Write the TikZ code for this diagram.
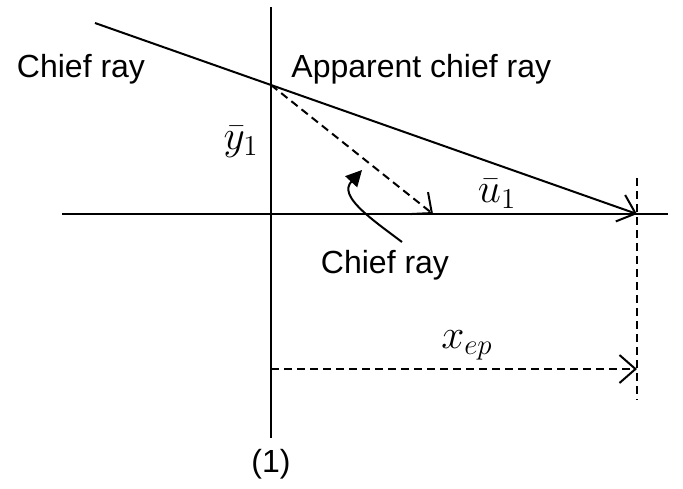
\documentclass[tikz,border=0pt]{standalone}
\usepackage{fontspec}
\setmainfont{Liberation Sans}
\usetikzlibrary{arrows.meta}
\begin{document}
\begin{tikzpicture}[x=0.5pt,y=-0.5pt,
  line/.style={line width=1pt},
  dline/.style={line width=1pt,dash pattern=on 4pt off 2.5pt},
  barb/.style={-{Straight Barb[length=8pt,width=14pt,line width=1pt]}},
  lbl/.style={font=\fontsize{16}{19}\selectfont,inner sep=0pt},
  mlbl/.style={font=\fontsize{22}{26}\selectfont,inner sep=0pt}]
\useasboundingbox (0,0) rectangle (683,488);
\coordinate (vtop) at (271,7);
\coordinate (vbot) at (271,438);
\coordinate (hl) at (62,214);
\coordinate (hr) at (668,214);
\coordinate (S) at (95,23);
\coordinate (A) at (271,85);
\coordinate (E) at (637,214);
\coordinate (D) at (433,214);
\coordinate (Etop) at (637,178);
\coordinate (Ebot) at (637,400);
\coordinate (X0) at (271,369);
\coordinate (X1) at (637,369);
\coordinate (C0) at (402,242);
\coordinate (C1) at (362,170);
% axes
\draw[line] (vtop) -- (vbot);
\draw[line] (hl) -- (hr);
% chief ray
\draw[line,barb] (S) -- (A) -- (E);
% apparent dashed ray
\draw[dline,barb] (A) -- (D);
% dashed vertical at exit pupil
\draw[dline] (Etop) -- (Ebot);
% x_ep arrow
\draw[dline,barb] (X0) -- (X1);
% curved pointer
\draw[line,-{Triangle[length=8pt,width=8pt]}] (C0) .. controls (370,218) and (338,196) .. (C1);
% labels
\node[lbl] (l1) at (81,69) {Chief ray};
\node[lbl,anchor=west] (l2) at (291,69) {Apparent chief ray};
\node[lbl] (l3) at (385,265) {Chief ray};
\node[lbl] (l4) at (271,464) {(1)};
\node[mlbl] (m1) at (241,142) {$\bar{y}_1$};
\node[mlbl] (m2) at (497,194) {$\bar{u}_1$};
\node[mlbl] (m3) at (467,345) {$x_{ep}$};
\end{tikzpicture}
\end{document}
